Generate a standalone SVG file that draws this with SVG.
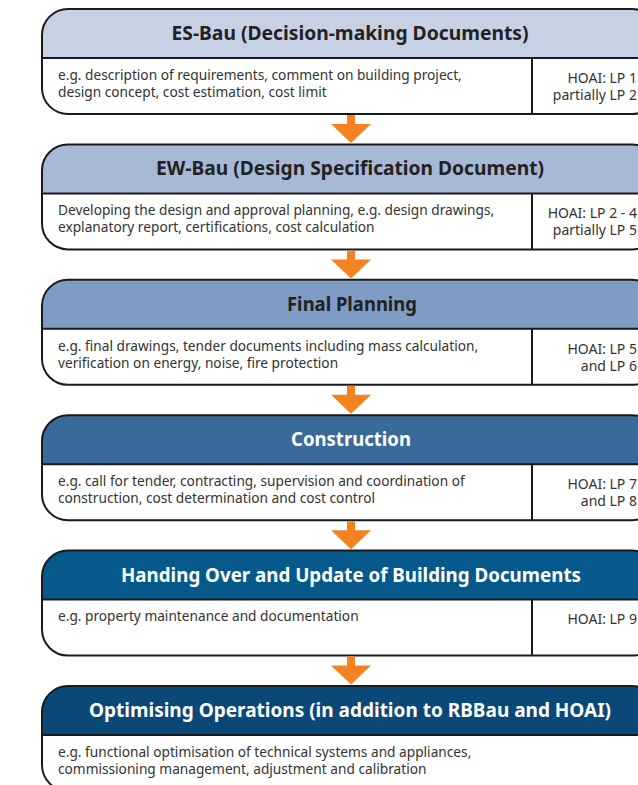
<svg xmlns="http://www.w3.org/2000/svg" width="638" height="785" viewBox="0 0 638 785">
  <style>
    .frame { fill: none; stroke: #1a1a1a; stroke-width: 2; }
    .rule { stroke: #1a1a1a; stroke-width: 2; }
    .body { fill: #ffffff; }
    .title { font-family: "Noto Sans", "Open Sans", sans-serif; font-weight: bold; font-size: 19px; text-anchor: middle; }
    .dark { fill: #222222; }
    .light { fill: #ffffff; }
    .txt { font-family: "Noto Sans", "Open Sans", sans-serif; font-size: 13.7px; fill: #333333; }
    .lp { font-family: "Noto Sans", "Open Sans", sans-serif; font-size: 14px; fill: #333333; text-anchor: end; }
    .arrow { fill: #f58220; }
  </style>
  <defs>
    <!-- header band: rounded on top, square where it meets the body -->
    <path id="head" d="M42,35 A26,26 0 0 1 68,9 H632 A26,26 0 0 1 658,35 V58 H42 Z"/>
  </defs>

  <rect width="638" height="785" fill="#ffffff"/>

  <!-- Stage 1 -->
  <g id="es-bau">
    <rect class="body" x="42" y="9" width="616" height="105" rx="26"/>
    <use href="#head" fill="#c6d2e4"/>
    <rect class="frame" x="42" y="9" width="616" height="105" rx="26"/>
    <line class="rule" x1="42" y1="58" x2="658" y2="58"/>
    <line class="rule" x1="532" y1="58" x2="532" y2="114"/>
    <text class="title dark" x="350" y="40" textLength="357" lengthAdjust="spacingAndGlyphs">ES-Bau (Decision-making Documents)</text>
    <text class="txt" x="58" y="80">e.g. description of requirements, comment on building project,</text>
    <text class="txt" x="58" y="97">design concept, cost estimation, cost limit</text>
    <text class="lp" x="637" y="83">HOAI: LP 1</text>
    <text class="lp" x="637" y="100">partially LP 2</text>
  </g>

  <!-- Stage 2 -->
  <g id="ew-bau" transform="translate(0,135.4)">
    <rect class="body" x="42" y="9" width="616" height="105" rx="26"/>
    <use href="#head" fill="#a7b9d6"/>
    <rect class="frame" x="42" y="9" width="616" height="105" rx="26"/>
    <line class="rule" x1="42" y1="58" x2="658" y2="58"/>
    <line class="rule" x1="532" y1="58" x2="532" y2="114"/>
    <text class="title dark" x="350" y="40" textLength="388" lengthAdjust="spacingAndGlyphs">EW-Bau (Design Specification Document)</text>
    <text class="txt" x="58" y="80">Developing the design and approval planning, e.g. design drawings,</text>
    <text class="txt" x="58" y="97">explanatory report, certifications, cost calculation</text>
    <text class="lp" x="637" y="83">HOAI: LP 2 - 4</text>
    <text class="lp" x="637" y="100">partially LP 5</text>
  </g>

  <!-- Stage 3 -->
  <g id="final-planning" transform="translate(0,270.8)">
    <rect class="body" x="42" y="9" width="616" height="105" rx="26"/>
    <use href="#head" fill="#7e9cc4"/>
    <rect class="frame" x="42" y="9" width="616" height="105" rx="26"/>
    <line class="rule" x1="42" y1="58" x2="658" y2="58"/>
    <line class="rule" x1="532" y1="58" x2="532" y2="114"/>
    <text class="title dark" x="352" y="40" textLength="130" lengthAdjust="spacingAndGlyphs">Final Planning</text>
    <text class="txt" x="58" y="80">e.g. final drawings, tender documents including mass calculation,</text>
    <text class="txt" x="58" y="97">verification on energy, noise, fire protection</text>
    <text class="lp" x="637" y="83">HOAI: LP 5</text>
    <text class="lp" x="637" y="100">and LP 6</text>
  </g>

  <!-- Stage 4 -->
  <g id="construction" transform="translate(0,406.2)">
    <rect class="body" x="42" y="9" width="616" height="105" rx="26"/>
    <use href="#head" fill="#396a9a"/>
    <rect class="frame" x="42" y="9" width="616" height="105" rx="26"/>
    <line class="rule" x1="42" y1="58" x2="658" y2="58"/>
    <line class="rule" x1="532" y1="58" x2="532" y2="114"/>
    <text class="title light" x="351" y="40" textLength="120" lengthAdjust="spacingAndGlyphs">Construction</text>
    <text class="txt" x="58" y="80">e.g. call for tender, contracting, supervision and coordination of</text>
    <text class="txt" x="58" y="97">construction, cost determination and cost control</text>
    <text class="lp" x="637" y="83">HOAI: LP 7</text>
    <text class="lp" x="637" y="100">and LP 8</text>
  </g>

  <!-- Stage 5 -->
  <g id="handing-over" transform="translate(0,541.6)">
    <rect class="body" x="42" y="9" width="616" height="105" rx="26"/>
    <use href="#head" fill="#07598b"/>
    <rect class="frame" x="42" y="9" width="616" height="105" rx="26"/>
    <line class="rule" x1="42" y1="58" x2="658" y2="58"/>
    <line class="rule" x1="532" y1="58" x2="532" y2="114"/>
    <text class="title light" x="351" y="40" textLength="460" lengthAdjust="spacingAndGlyphs">Handing Over and Update of Building Documents</text>
    <text class="txt" x="58" y="79">e.g. property maintenance and documentation</text>
    <text class="lp" x="637" y="82">HOAI: LP 9</text>
  </g>

  <!-- Stage 6 -->
  <g id="optimising" transform="translate(0,677)">
    <rect class="body" x="42" y="9" width="616" height="105" rx="26"/>
    <use href="#head" fill="#0a4878"/>
    <rect class="frame" x="42" y="9" width="616" height="105" rx="26"/>
    <line class="rule" x1="42" y1="58" x2="658" y2="58"/>
    <text class="title light" x="350" y="40" textLength="522" lengthAdjust="spacingAndGlyphs">Optimising Operations (in addition to RBBau and HOAI)</text>
    <text class="txt" x="58" y="80">e.g. functional optimisation of technical systems and appliances,</text>
    <text class="txt" x="58" y="97">commissioning management, adjustment and calibration</text>
  </g>

  <!-- Connectors: orange down arrows between stages -->
  <g id="connectors">
    <polygon class="arrow" points="347,115 355,115 355,124 371,124 351,143 331,124 347,124"/>
    <polygon class="arrow" transform="translate(0,135.4)" points="347,115 355,115 355,124 371,124 351,143 331,124 347,124"/>
    <polygon class="arrow" transform="translate(0,270.8)" points="347,115 355,115 355,124 371,124 351,143 331,124 347,124"/>
    <polygon class="arrow" transform="translate(0,406.2)" points="347,115 355,115 355,124 371,124 351,143 331,124 347,124"/>
    <polygon class="arrow" transform="translate(0,541.6)" points="347,115 355,115 355,124 371,124 351,143 331,124 347,124"/>
  </g>
</svg>
